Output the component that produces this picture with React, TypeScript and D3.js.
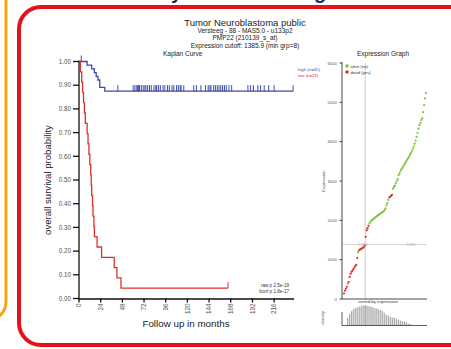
import React from 'react';
import * as d3 from 'd3';

const W = 451;
const H = 349;
const FONT = "'Liberation Sans', Arial, sans-serif";

// Survival data (months): deaths and censored follow-up per expression group
const highEvents = [9, 14, 17, 19, 21, 23, 23, 28.5];
const highCensored = [2.5, 43, 60, 62, 64, 65, 66, 67, 69, 71, 73, 74, 76, 78, 80, 83, 85, 86, 88, 90, 93, 95, 98, 100, 103, 105, 108, 110, 112, 113, 116, 127, 130, 135, 140, 143, 145, 146, 149, 151, 153, 155, 157, 159, 161, 163, 166, 169, 187, 190, 193, 198, 201, 205, 210, 216, 237];
const lowEvents = [1.5, 3, 4, 5, 6, 7, 9, 10, 11, 12, 13, 13.5, 14, 15, 15.5, 16.5, 17, 20, 25, 39, 42, 46.5];
const lowCensored = [165];

const survivalTicks = [0, 0.1, 0.2, 0.3, 0.4, 0.5, 0.6, 0.7, 0.8, 0.9, 1.0];
const monthTicks = [0, 24, 48, 72, 96, 120, 144, 168, 192, 216];

// Expression per sample, sorted ascending, with vital status (1 = event)
const expressionValues = [140, 210, 260, 310, 390, 430, 560, 640, 690, 720, 760, 800, 840, 870, 1040, 1190, 1240, 1260, 1270, 1285, 1300, 1320, 1360,
  1580, 1750, 1800, 1860, 1920, 1960, 1990, 2010, 2030, 2050, 2070, 2090, 2110, 2130, 2140, 2160, 2180, 2200, 2210, 2230, 2260, 2300, 2380, 2440, 2520,
  2580, 2600, 2620, 2650, 2800, 2850, 2880, 2940, 3000, 3050, 3150, 3200, 3260, 3300, 3340, 3380, 3420, 3460, 3500, 3540, 3580, 3620, 3670, 3710, 3760,
  3820, 3880, 3950, 4030, 4120, 4220, 4330, 4420, 4480, 4550, 4600, 4750, 4930, 5100, 5240];
const eventStatus = [1, 1, 1, 1, 0, 1, 1, 1, 1, 1, 1, 1, 1, 1, 1, 0, 1, 1, 1, 1, 1, 1, 1,
  1, 1, 1, 1, 0, 0, 0, 0, 0, 0, 0, 0, 0, 0, 0, 0, 0, 0, 0, 0, 0, 0, 0, 0, 0,
  1, 1, 1, 1, 0, 0, 0, 0, 0, 0, 0, 0, 0, 0, 0, 0, 0, 0, 0, 0, 0, 0, 0, 0, 0,
  0, 0, 0, 0, 0, 0, 0, 0, 0, 0, 0, 0, 0, 0, 0];
const expressionTicks = [0, 1000, 2000, 3000, 4000, 5000, 6000];
const cutoff = 1385.9;

// Distribution of expression values (counts per bin)
const densityCounts = [8, 12, 15, 17, 18, 19, 19.5, 20.5, 20.5, 20.5, 20, 19.5, 19, 18, 17.5, 17, 16, 15, 13, 11, 10, 9, 8, 8, 7, 6, 5, 4.5, 4, 3, 2, 1.5];

const BLUE = '#3c4ba6';
const RED = '#e0302c';
const GREEN = '#7cc43a';

function kaplanMeier(events: number[], censored: number[]) {
  const recs = [...events.map(t => ({ t, e: 1 })), ...censored.map(t => ({ t, e: 0 }))]
    .sort((a, b) => a.t - b.t || b.e - a.e);
  let atRisk = recs.length;
  let s = 1;
  const steps: { t: number; s: number }[] = [{ t: 0, s: 1 }];
  const marks: { t: number; s: number }[] = [];
  let i = 0;
  while (i < recs.length) {
    const t = recs[i].t;
    let d = 0, c = 0;
    while (i < recs.length && recs[i].t === t) {
      if (recs[i].e) d++; else c++;
      i++;
    }
    if (d > 0) { s = s * (1 - d / atRisk); steps.push({ t, s }); }
    if (c > 0) marks.push({ t, s });
    atRisk -= d + c;
  }
  const end = recs[recs.length - 1].t;
  steps.push({ t: end, s });
  return { steps, marks };
}

export default function App() {
  // Kaplan-Meier panel scales
  const x = d3.scaleLinear().domain([0, 238]).range([79, 294]);
  const y = d3.scaleLinear().domain([0, 1]).range([298.5, 61.5]);
  const line = d3.line<{ t: number; s: number }>().x(d => x(d.t)).y(d => y(d.s)).curve(d3.curveStepAfter);

  const high = kaplanMeier(highEvents, highCensored);
  const low = kaplanMeier(lowEvents, lowCensored);

  // Expression panel scales
  const xr = d3.scaleLinear().domain([1, expressionValues.length]).range([344, 426]);
  const ye = d3.scaleLinear().domain([0, 6000]).range([299, 63]);
  const lowCount = expressionValues.filter(v => v < cutoff).length;
  const cutX = (xr(lowCount) + xr(lowCount + 1)) / 2;

  const hx = d3.scaleLinear().domain([0, densityCounts.length]).range([347, 412]);
  const hy = d3.scaleLinear().domain([0, 21]).range([325.5, 305]);

  const tickText = { fontFamily: FONT, fontSize: 6.3, fill: '#555' } as const;
  const smallText = { fontFamily: FONT, fontSize: 4.3, fill: '#555' } as const;

  return (
    <svg width={W} height={H} viewBox={`0 0 ${W} ${H}`}
      style={{ position: 'fixed', left: 0, top: 0, background: '#fff' }}>
      <rect x={0} y={0} width={W} height={H} fill="#fff" />

      {/* frames */}
      <rect x={-40} y={-30} width={46} height={350} rx={18} fill="none" stroke="#f4a312" strokeWidth={3} />
      <rect x={19} y={7} width={470} height={338} rx={22} fill="none" stroke="#e5121c" strokeWidth={4} />
      <text x={45} y={-1} fontFamily={FONT} fontWeight="bold" fontSize={20} fill="#1d2b5c">Survival Analysis and Testing</text>

      {/* headings */}
      <g fontFamily={FONT} textAnchor="middle" fill="#222">
        <text x={245} y={26} fontSize={9.5}>Tumor Neuroblastoma public</text>
        <text x={245} y={33} fontSize={6.5}>Versteeg - 88 - MAS5.0 - u133p2</text>
        <text x={245} y={40} fontSize={6.5}>PMP22 (210139_s_at)</text>
        <text x={245} y={48} fontSize={6.5}>Expression cutoff: 1385.9 (min grp=8)</text>
        <text x={163} y={56} fontSize={6.5} textAnchor="start">Kaplan Curve</text>
        <text x={383} y={56} fontSize={6.5}>Expression Graph</text>
      </g>

      {/* Kaplan-Meier axes */}
      <g stroke="#111" strokeWidth={1.3} fill="none">
        <line x1={79} x2={79} y1={y(1) - 1} y2={y(0)} />
        <line x1={78.4} x2={x(238)} y1={y(0) + 0.5} y2={y(0) + 0.5} />
        {survivalTicks.map(v => <line key={v} x1={73} x2={79} y1={y(v)} y2={y(v)} />)}
        {monthTicks.map(v => <line key={v} x1={x(v)} x2={x(v)} y1={y(0)} y2={y(0) + 4} />)}
      </g>
      {survivalTicks.map(v => (
        <text key={v} x={71} y={y(v) + 2.2} textAnchor="end" {...tickText}>{v.toFixed(2)}</text>
      ))}
      {monthTicks.map(v => (
        <text key={v} transform={`translate(${x(v) + 2.2},${y(0) + 5}) rotate(-90)`} textAnchor="end" {...tickText}>{v}</text>
      ))}
      <text transform={`translate(51,${(y(0) + y(1)) / 2}) rotate(-90)`} textAnchor="middle" fontFamily={FONT} fontSize={9.6} fill="#222">overall survival probability</text>
      <text x={186} y={327} textAnchor="middle" fontFamily={FONT} fontSize={9.8} fill="#222">Follow up in months</text>

      {/* survival curves */}
      <path d={line(high.steps) ?? ''} fill="none" stroke={BLUE} strokeWidth={1.3} />
      {high.marks.map((m, i) => (
        <line key={i} x1={x(m.t)} x2={x(m.t)} y1={y(m.s)} y2={y(m.s) - 6} stroke={BLUE} strokeWidth={1} />
      ))}
      <path d={line(low.steps) ?? ''} fill="none" stroke={RED} strokeWidth={1.3} />
      {low.marks.map((m, i) => (
        <line key={i} x1={x(m.t)} x2={x(m.t)} y1={y(m.s)} y2={y(m.s) - 6} stroke={RED} strokeWidth={1} />
      ))}
      <text x={298} y={71} fontFamily={FONT} fontSize={4.3} fill={BLUE}>high (n={highEvents.length + highCensored.length})</text>
      <text x={298} y={77} fontFamily={FONT} fontSize={4.3} fill={RED}>low (n={lowEvents.length + lowCensored.length})</text>
      <text x={289} y={287} textAnchor="end" fontFamily={FONT} fontSize={4.6} fill="#333">raw p 2.5e-19</text>
      <text x={289} y={293} textAnchor="end" fontFamily={FONT} fontSize={4.6} fill="#333">bonf p 1.8e-17</text>

      {/* expression graph */}
      <line x1={cutX} x2={cutX} y1={ye(6000)} y2={ye(0)} stroke="#bbb" strokeWidth={0.8} />
      <line x1={342} x2={427} y1={ye(cutoff)} y2={ye(cutoff)} stroke="#ccc" strokeWidth={0.8} />
      <text x={358} y={ye(cutoff) + 1.2} {...smallText} fill="#bbb">1386</text>
      <text x={406} y={ye(cutoff) + 1.2} {...smallText} fill="#bbb">1386</text>
      <g stroke="#333" strokeWidth={0.9} fill="none">
        <line x1={342} x2={342} y1={ye(6000) - 1} y2={ye(0)} />
        <line x1={342} x2={427} y1={ye(0)} y2={ye(0)} />
        {expressionTicks.map(v => <line key={v} x1={339.5} x2={342} y1={ye(v)} y2={ye(v)} />)}
      </g>
      {expressionTicks.map(v => (
        <text key={v} x={337} y={ye(v) + 1.5} textAnchor="end" {...smallText}>{v}</text>
      ))}
      <text transform={`translate(325,181) rotate(-90)`} textAnchor="middle" {...smallText}>Expression</text>
      <text x={378} y={303} textAnchor="middle" {...smallText} fill="#333">sorted by expression</text>
      {expressionValues.map((v, i) => (
        <circle key={i} cx={xr(i + 1)} cy={ye(v)} r={1.1} fill={eventStatus[i] ? RED : GREEN} />
      ))}
      <circle cx={347} cy={66} r={1.8} fill={GREEN} />
      <circle cx={347} cy={72} r={1.8} fill={RED} />
      <text x={350.5} y={67.5} {...smallText} fill="#333">alive (no)</text>
      <text x={350.5} y={73.5} {...smallText} fill="#333">dead (yes)</text>

      {/* expression distribution */}
      {densityCounts.map((c, i) => (
        <rect key={i} x={hx(i)} y={hy(c)} width={1.3} height={hy(0) - hy(c)} fill="#aaa" />
      ))}
      <line x1={cutX} x2={cutX} y1={305} y2={325.5} stroke="#999" strokeWidth={0.6} />
      <g stroke="#333" strokeWidth={0.8}>
        <line x1={342} x2={342} y1={312} y2={325.5} />
        <line x1={342} x2={427} y1={325.5} y2={325.5} />
      </g>
      <text transform={`translate(324,318) rotate(-90)`} textAnchor="middle" {...smallText}>density</text>
    </svg>
  );
}
